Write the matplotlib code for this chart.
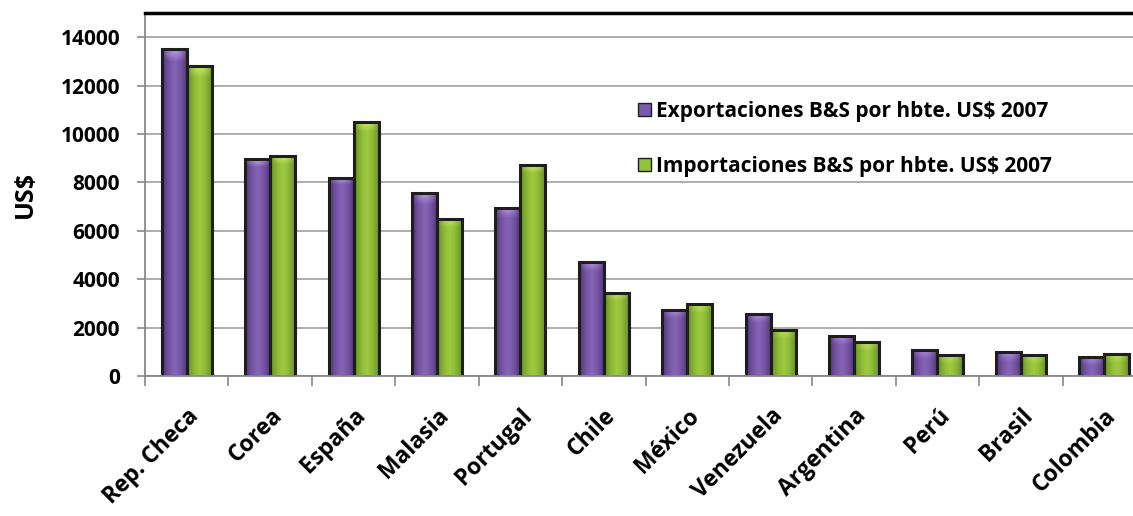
import numpy as np
import matplotlib
matplotlib.use('Agg')
import matplotlib.pyplot as plt
from matplotlib.patches import Rectangle

plt.rcParams['font.family'] = ['Open Sans', 'DejaVu Sans']
plt.rcParams['font.weight'] = 'bold'

paises = ['Rep. Checa', 'Corea', 'España', 'Malasia', 'Portugal', 'Chile',
          'México', 'Venezuela', 'Argentina', 'Perú', 'Brasil', 'Colombia']
exportaciones = [13500, 8950, 8200, 7550, 6950, 4720, 2730, 2570, 1660, 1080, 990, 790]
importaciones = [12800, 9080, 10480, 6500, 8700, 3440, 2980, 1900, 1410, 870, 870, 910]
etiquetas = ['Exportaciones B&S por hbte. US$ 2007',
             'Importaciones B&S por hbte. US$ 2007']
yticks = [0, 2000, 4000, 6000, 8000, 10000, 12000, 14000]


def bar_gradient(ax, x, w, h, c_edge, c_mid, c_top):
    # cylinder-like horizontal shading with light top
    n = 64
    t = np.linspace(-1, 1, n)
    k = 1 - np.abs(t) ** 1.6
    edge = np.array(matplotlib.colors.to_rgb(c_edge))
    mid = np.array(matplotlib.colors.to_rgb(c_mid))
    top = np.array(matplotlib.colors.to_rgb(c_top))
    row = edge[None, :] * (1 - k[:, None]) + mid[None, :] * k[:, None]
    m = 40
    img = np.repeat(row[None, :, :], m, axis=0)
    # top highlight
    ht = min(400, h * 0.6)
    frac = np.clip(ht / h, 0, 1)
    rows = int(m * frac) if h > 0 else 0
    for i in range(rows):
        a = (1 - i / max(rows, 1)) * 0.6
        img[m - 1 - i] = img[m - 1 - i] * (1 - a * k[:, None]) + top[None, :] * a * k[:, None]
    im = ax.imshow(img, extent=(x, x + w, 0, h), origin='lower', aspect='auto',
                   zorder=3, interpolation='bilinear')
    r = Rectangle((x, -60), w, h + 60, fill=False, edgecolor='#1e1e1e', linewidth=2.2, zorder=4)
    ax.add_patch(r)
    im.set_clip_path(r)


fig = plt.figure(figsize=(11.33, 5.16), dpi=100)
# plot area runs a bit past the right edge of the picture, like the original
ax = fig.add_axes([0.128, 0.271, 0.8835, 0.704])

x = np.arange(len(paises))
w = 0.30
for i in range(len(paises)):
    bar_gradient(ax, x[i] - w, w, exportaciones[i], '#4a3275', '#8462b4', '#c8aef0')
    bar_gradient(ax, x[i], w, importaciones[i], '#5f8a1f', '#9cc83f', '#d8f07a')

ax.set_xlim(-0.5, len(paises) - 0.5)
ax.set_ylim(0, 15000)
ax.set_yticks(yticks)
ax.set_yticklabels([str(v) for v in yticks], fontsize=15, fontweight='bold')
ax.set_xticks(np.arange(len(paises) + 1) - 0.5)
ax.set_xticklabels([])
ax.set_xticks(x, minor=True)
ax.set_xticklabels(paises, minor=True, rotation=45, ha='right', rotation_mode='anchor',
                   fontsize=16.5, fontweight='bold')
ax.tick_params(axis='x', which='minor', length=0, pad=20)
ax.tick_params(axis='x', which='major', length=7, color='#888888', width=1.2)
ax.tick_params(axis='y', length=6, color='#888888', width=1.2, pad=12)
ax.set_ylabel('US$', fontsize=18, fontweight='bold', labelpad=16)

ax.yaxis.grid(True, color='#a0a0a0', linewidth=1.2, zorder=0)
ax.set_axisbelow(True)
for s in ['left', 'bottom']:
    ax.spines[s].set_color('#888888')
    ax.spines[s].set_linewidth(1.3)
ax.spines['top'].set_color('black')
ax.spines['top'].set_linewidth(2.5)
ax.spines['right'].set_visible(False)
for sp in ax.spines.values():
    sp.set_zorder(5)

handles = [Rectangle((0, 0), 1, 1, facecolor='#7a5aaa', edgecolor='#1e1e1e', linewidth=1),
           Rectangle((0, 0), 1, 1, facecolor='#94c23c', edgecolor='#1e1e1e', linewidth=1)]
leg = ax.legend(handles, etiquetas, loc='upper left', bbox_to_anchor=(0.474, 0.81),
                frameon=False, labelspacing=1.65, handlelength=0.6,
                handleheight=0.6, handletextpad=0.25, prop={'weight': 'bold', 'size': 15})

fig.savefig('out.png', dpi=100)
